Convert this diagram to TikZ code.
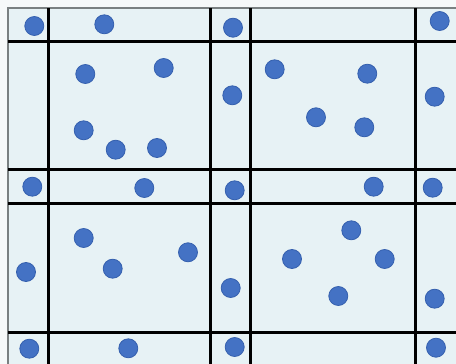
\documentclass[tikz,border=0pt]{standalone}
\definecolor{cellfill}{HTML}{E7F2F5}
\definecolor{outside}{HTML}{F6F9FA}
\definecolor{dotfill}{HTML}{4472C4}
\definecolor{dotedge}{HTML}{3560AE}
\definecolor{rimgray}{HTML}{7A8082}
\begin{document}
\begin{tikzpicture}[x=1pt,y=-1pt,
  dot/.style={circle,fill=dotfill,draw=dotedge,line width=0.8pt,minimum size=19pt,inner sep=0pt},
  gridline/.style={line width=3pt,black},
  rim/.style={line width=1.3pt,rimgray}]
\useasboundingbox (0,0) rectangle (456,364);
\fill[outside] (0,0) rectangle (456,364);
\fill[cellfill] (8,8) rectangle (456,364);
\draw[rim] (8,364) -- (8,8) -- (456,8);
% thick grid lines
\foreach \x in {48.5,210,250,415.5} \draw[gridline] (\x,8) -- (\x,364);
\foreach \y in {41,169.5,203,332} \draw[gridline] (8,\y) -- (456,\y);
% dots
\node[dot] (d1) at (34.3,26) {};
\node[dot] (d2) at (104.3,24.3) {};
\node[dot] (d3) at (233,27.7) {};
\node[dot] (d4) at (439.7,21) {};
\node[dot] (d5) at (85.3,74) {};
\node[dot] (d6) at (163.7,68) {};
\node[dot] (d7) at (83.7,130.3) {};
\node[dot] (d8) at (115.7,149.7) {};
\node[dot] (d9) at (157,148) {};
\node[dot] (d10) at (274.7,69.3) {};
\node[dot] (d11) at (367.3,73.7) {};
\node[dot] (d12) at (232.3,95.3) {};
\node[dot] (d13) at (316,117.3) {};
\node[dot] (d14) at (364.3,127.3) {};
\node[dot] (d15) at (434.7,96.7) {};
\node[dot] (d16) at (32.3,186.7) {};
\node[dot] (d17) at (144.3,188) {};
\node[dot] (d18) at (234.7,190.3) {};
\node[dot] (d19) at (373.7,186.7) {};
\node[dot] (d20) at (432.7,187.7) {};
\node[dot] (d21) at (83.7,238) {};
\node[dot] (d22) at (112.7,268.7) {};
\node[dot] (d23) at (188,252.3) {};
\node[dot] (d24) at (26,272) {};
\node[dot] (d25) at (351.3,230.3) {};
\node[dot] (d26) at (292,259) {};
\node[dot] (d27) at (384.7,259) {};
\node[dot] (d28) at (230.7,288) {};
\node[dot] (d29) at (338.3,296) {};
\node[dot] (d30) at (434.7,298.7) {};
\node[dot] (d31) at (29.3,348.7) {};
\node[dot] (d32) at (128.3,348.3) {};
\node[dot] (d33) at (234.7,347) {};
\node[dot] (d34) at (436,347.7) {};
\end{tikzpicture}
\end{document}
